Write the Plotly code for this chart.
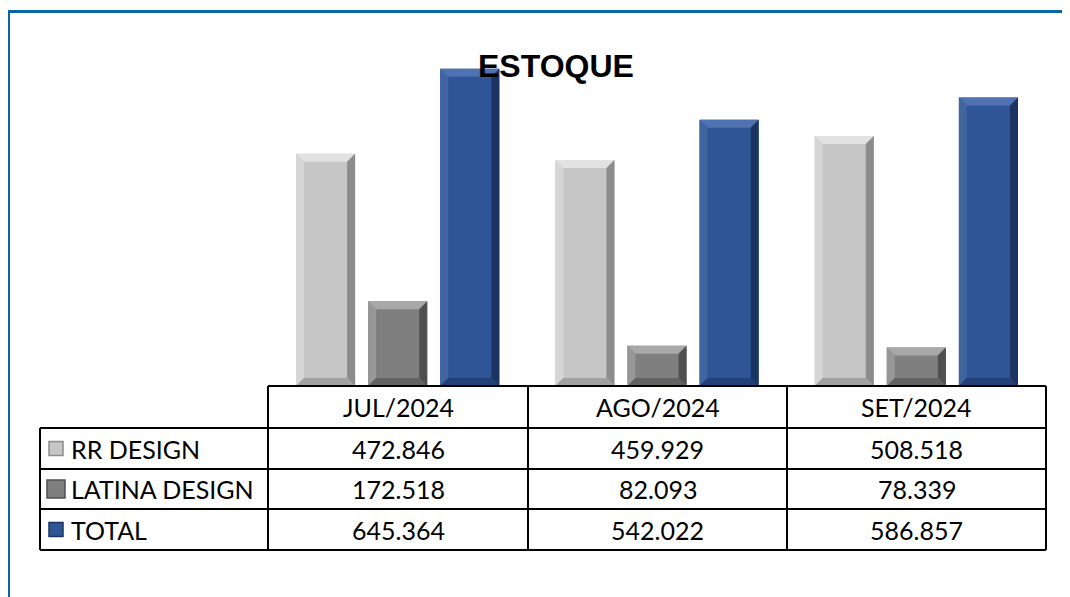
import plotly.graph_objects as go

categories = ["JUL/2024", "AGO/2024", "SET/2024"]
series_names = ["RR DESIGN", "LATINA DESIGN", "TOTAL"]
rr_design = [472.846, 459.929, 508.518]
latina_design = [172.518, 82.093, 78.339]
total = [645.364, 542.022, 586.857]
series_values = [rr_design, latina_design, total]
value_labels = [["472.846", "459.929", "508.518"],
                ["172.518", "82.093", "78.339"],
                ["645.364", "542.022", "586.857"]]

W, H = 1070, 597
OFF = 8  # page body margin
PL, PR, PT, PB = 268, 1046, 42, 386  # plot area in page pixels
YMAX = 700
BARGAP = 0.166
BARGROUPGAP = 0.18

colors = ["#C6C6C6", "#7F7F7F", "#2F5597"]
light = ["#D6D6D6", "#979797", "#40649F"]
lighter = ["#E2E2E2", "#A8A8A8", "#4E72B2"]
dark = ["#8C8C8C", "#505050", "#1B3462"]
darkb = ["#A2A2A2", "#626262", "#223F78"]

FONT = "Lato"


def px(x):
    return (x - PL) / (PR - PL)


def py(y):
    return (PB - y) / (PB - PT)


fig = go.Figure()
for i, (name, vals) in enumerate(zip(series_names, series_values)):
    fig.add_trace(go.Bar(name=name, x=categories, y=vals,
                         marker=dict(color=colors[i], line=dict(width=0)),
                         showlegend=False))

# bevel effect shapes derived from data
shapes = []
ncat = len(categories)
unit_px = (PR - PL) / ncat
group = 1 - BARGAP
slot = group / 3
bw = slot * (1 - BARGROUPGAP)
bev_x = 8 / unit_px
bev_y = 8 / ((PB - PT) / YMAX)
for i, vals in enumerate(series_values):
    for c, v in enumerate(vals):
        center = c - group / 2 + slot * (i + 0.5)
        x0, x1 = center - bw / 2, center + bw / 2
        y0, y1 = 0, v
        bx = bev_x
        by = min(bev_y, v / 2)
        shapes.append(dict(type="path", xref="x", yref="y",
                           path=f"M{x0},{y0} L{x0+bx},{y0+by} L{x0+bx},{y1-by} L{x0},{y1} Z",
                           fillcolor=light[i], line=dict(width=0), layer="above"))
        shapes.append(dict(type="path", xref="x", yref="y",
                           path=f"M{x0},{y1} L{x0+bx},{y1-by} L{x1-bx},{y1-by} L{x1},{y1} Z",
                           fillcolor=lighter[i], line=dict(width=0), layer="above"))
        shapes.append(dict(type="path", xref="x", yref="y",
                           path=f"M{x1},{y1} L{x1-bx},{y1-by} L{x1-bx},{y0+by} L{x1},{y0} Z",
                           fillcolor=dark[i], line=dict(width=0), layer="above"))
        shapes.append(dict(type="path", xref="x", yref="y",
                           path=f"M{x0},{y0} L{x0+bx},{y0+by} L{x1-bx},{y0+by} L{x1},{y0} Z",
                           fillcolor=darkb[i], line=dict(width=0), layer="above"))

# frame (blue)
FRAME = "#0B65A6"
shapes.append(dict(type="line", xref="paper", yref="paper", x0=px(6), x1=px(1080),
                   y0=py(11.5), y1=py(11.5), line=dict(color=FRAME, width=3)))
shapes.append(dict(type="line", xref="paper", yref="paper", x0=px(8), x1=px(8),
                   y0=py(10), y1=py(610), line=dict(color=FRAME, width=4)))

# table
row_y = [386, 428, 469, 509, 550]
col_x = [268, 528, 787, 1046]
LBL_X0 = 40
LC = "black"
LW = 2
shapes.append(dict(type="line", xref="paper", yref="paper", x0=px(col_x[0]), x1=px(col_x[-1]),
                   y0=py(row_y[0]), y1=py(row_y[0]), line=dict(color=LC, width=LW)))
for ry in row_y[1:]:
    shapes.append(dict(type="line", xref="paper", yref="paper", x0=px(LBL_X0), x1=px(col_x[-1]),
                       y0=py(ry), y1=py(ry), line=dict(color=LC, width=LW)))
shapes.append(dict(type="line", xref="paper", yref="paper", x0=px(LBL_X0), x1=px(LBL_X0),
                   y0=py(row_y[1]), y1=py(row_y[-1]), line=dict(color=LC, width=LW)))
for cx in col_x:
    shapes.append(dict(type="line", xref="paper", yref="paper", x0=px(cx), x1=px(cx),
                       y0=py(row_y[0]), y1=py(row_y[-1]), line=dict(color=LC, width=LW)))

annotations = []
TS = 25
for c, cat in enumerate(categories):
    annotations.append(dict(text=cat, xref="paper", yref="paper",
                            x=px((col_x[c] + col_x[c + 1]) / 2), y=py((row_y[0] + row_y[1]) / 2),
                            showarrow=False, font=dict(family=FONT, size=TS, color="black"),
                            xanchor="center", yanchor="middle"))
key_sizes = [14, 18, 14]
for i, name in enumerate(series_names):
    ymid = (row_y[i + 1] + row_y[i + 2]) / 2
    ks = key_sizes[i]
    kx0 = 56 - ks / 2
    shapes.append(dict(type="rect", xref="paper", yref="paper",
                       x0=px(kx0), x1=px(kx0 + ks), y0=py(ymid - ks / 2), y1=py(ymid + ks / 2),
                       fillcolor=colors[i], line=dict(color=dark[i], width=1.5)))
    annotations.append(dict(text=name, xref="paper", yref="paper",
                            x=px(69), y=py(ymid), showarrow=False,
                            font=dict(family=FONT, size=TS, color="black"),
                            xanchor="left", yanchor="middle"))
    for c in range(ncat):
        annotations.append(dict(text=value_labels[i][c], xref="paper", yref="paper",
                                x=px((col_x[c] + col_x[c + 1]) / 2), y=py(ymid),
                                showarrow=False, font=dict(family=FONT, size=TS, color="black"),
                                xanchor="center", yanchor="middle"))

annotations.append(dict(text="<b>ESTOQUE</b>", xref="paper", yref="paper",
                        x=px(556), y=py(66), showarrow=False,
                        font=dict(family="Liberation Sans", size=32, color="black"),
                        xanchor="center", yanchor="middle"))

fig.update_layout(
    width=W, height=H,
    margin=dict(l=PL - OFF, r=W - (PR - OFF), t=PT - OFF, b=H - (PB - OFF), pad=0),
    paper_bgcolor="white", plot_bgcolor="white",
    barmode="group", bargap=BARGAP, bargroupgap=BARGROUPGAP,
    xaxis=dict(visible=False, range=[-0.5, ncat - 0.5]),
    yaxis=dict(visible=False, range=[0, YMAX]),
    shapes=shapes, annotations=annotations,
    showlegend=False,
)

fig.write_html("out.html")
